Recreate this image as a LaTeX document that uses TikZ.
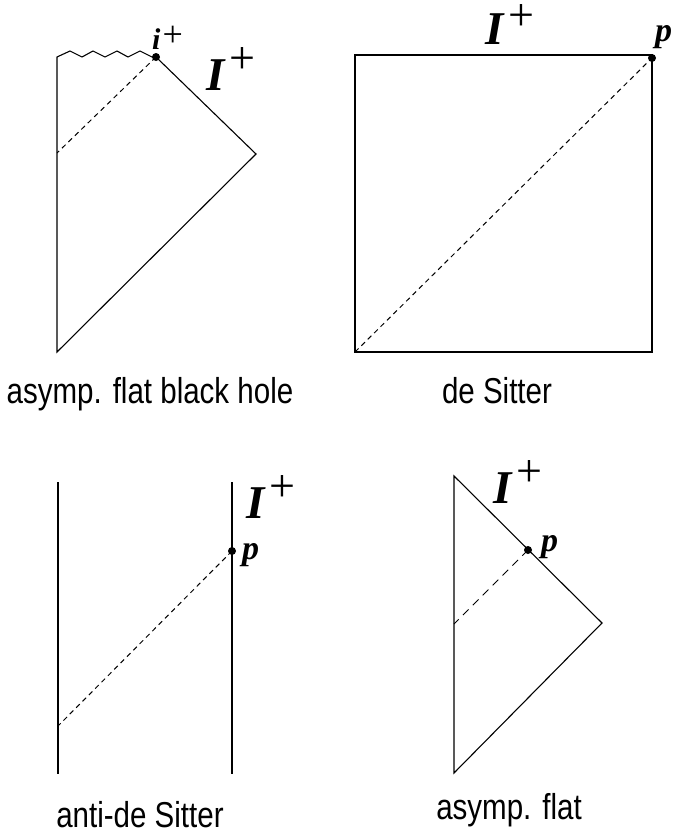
\documentclass[tikz,border=0pt]{standalone}
\usepackage{fontspec}
\setmainfont{Liberation Serif}
\newfontfamily\capfont[FakeStretch=0.82]{Liberation Sans}
\newcommand\scriplus[1][17pt]{{\fontsize{47}{47}\selectfont\bfseries\itshape I}\kern5pt\raisebox{#1}{\fontsize{46}{46}\selectfont +}}
\newcommand\iplus{{\fontsize{30}{30}\selectfont\bfseries\itshape i}\kern2pt\raisebox{3pt}{\fontsize{36}{36}\selectfont +}}
\newcommand\pt{{\fontsize{34}{34}\selectfont\bfseries\itshape p}}
\begin{document}
\begin{tikzpicture}[x=1pt,y=-1pt,
  edge/.style={draw=black,line width=1.1pt,line join=miter},
  dashline/.style={draw=black,line width=1pt,dash pattern=on 5pt off 4pt},
  longdash/.style={draw=black,line width=1pt,dash pattern=on 8pt off 6pt},
  dot/.style={circle,fill=black,inner sep=0pt,minimum size=8pt},
  lbl/.style={inner sep=0pt,anchor=base west},
  caption/.style={inner sep=0pt,anchor=base,font=\capfont\fontsize{36}{40}\selectfont}]
\useasboundingbox (0,0) rectangle (673,836);

% ---- asymptotically flat black hole
\coordinate (bhTL) at (57,57);
\node[dot] (bhi) at (156,57) {};
\coordinate (bhR) at (256,154);
\coordinate (bhB) at (57,352);
\coordinate (bhD) at (57,153);
\draw[edge] (bhi.center) -- (bhR) -- (bhB) -- (bhTL)
  -- (70,51) -- (82,57) -- (93,51) -- (105,57) -- (117,51) -- (128,57) -- (140,51) -- (152,57) -- (bhi.center);
\draw[dashline] (bhi.center) -- (bhD);
\node[lbl] (bhiplus) at (152,49) {\iplus};
\node[lbl] (bhscri) at (206,90) {\scriplus};
\node[caption] (bhcap) at (150,403) {asymp. flat black hole};

% ---- de Sitter
\coordinate (dsTL) at (355,55);
\coordinate (dsTR) at (652,55);
\coordinate (dsBR) at (652,352);
\coordinate (dsBL) at (355,352);
\draw[edge] (dsTL) -- (dsTR) -- (dsBR) -- (dsBL) -- cycle;
\node[dot] (dsp) at (652,58) {};
\draw[dashline] (dsBL) -- (dsp.center);
\node[lbl] (dsplabel) at (655,41) {\pt};
\node[lbl] (dsscri) at (485,44) {\scriplus[14pt]};
\node[caption] (dscap) at (497,403) {de Sitter};

% ---- anti-de Sitter
\coordinate (adsLT) at (58,482);
\coordinate (adsLB) at (58,774);
\coordinate (adsRT) at (232,482);
\coordinate (adsRB) at (232,774);
\draw[edge] (adsLT) -- (adsLB);
\draw[edge] (adsRT) -- (adsRB);
\node[dot] (adsp) at (232,551) {};
\coordinate (adsD) at (58,726);
\draw[dashline] (adsp.center) -- (adsD);
\node[lbl] (adsplabel) at (242,559) {\pt};
\node[lbl] (adsscri) at (246,518) {\scriplus};
\node[caption] (adscap) at (140,827) {anti-de Sitter};

% ---- asymptotically flat
\coordinate (flT) at (454,476);
\coordinate (flR) at (602,623);
\coordinate (flB) at (454,773);
\draw[edge] (flT) -- (flR) -- (flB) -- cycle;
\node[dot] (flp) at (528,550) {};
\coordinate (flD) at (454,624);
\draw[longdash] (flp.center) -- (flD);
\node[lbl] (flplabel) at (541,551) {\pt};
\node[lbl] (flscri) at (493,503) {\scriplus};
\node[caption] (flcap) at (509,819) {asymp. flat};
\end{tikzpicture}
\end{document}
